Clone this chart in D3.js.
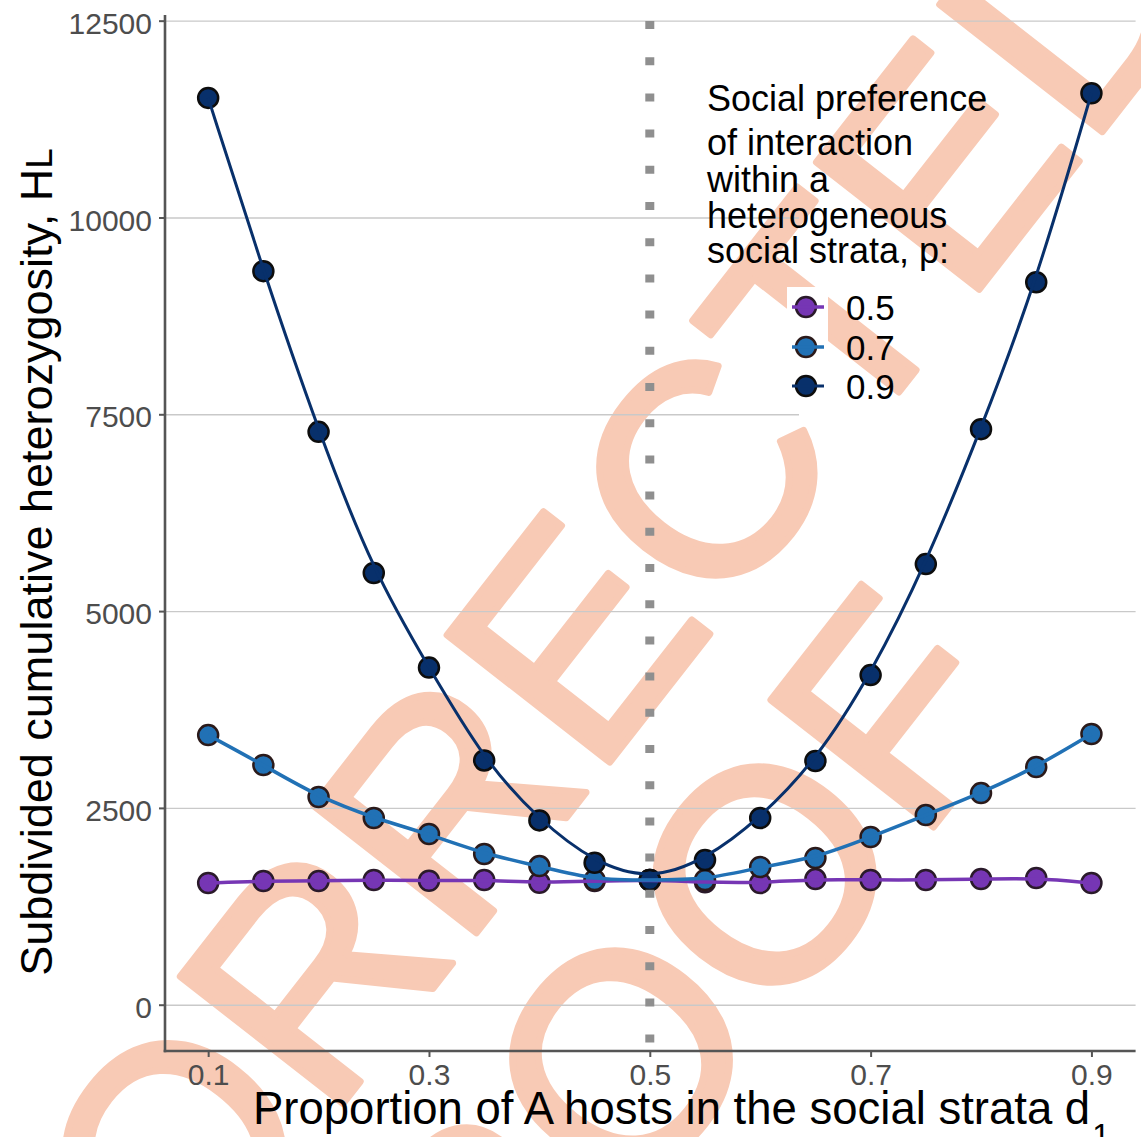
<!DOCTYPE html>
<html>
<head>
<meta charset="utf-8">
<script src="https://cdn.jsdelivr.net/npm/d3@7"></script>
<style>
  html, body { margin: 0; padding: 0; background: #ffffff; }
  svg { display: block; }
  text { font-family: "Liberation Sans", Arial, Helvetica, sans-serif; }
</style>
</head>
<body>
<svg id="chart" width="1141" height="1137"></svg>
<script>
// Proportion of A hosts in the social strata (d1)
const proportionA = [0.1, 0.15, 0.2, 0.25, 0.3, 0.35, 0.4, 0.45, 0.5, 0.55, 0.6, 0.65, 0.7, 0.75, 0.8, 0.85, 0.9];

// Subdivided cumulative heterozygosity HL for each social preference p
const hlP05 = [1546, 1571, 1571, 1584, 1575, 1584, 1549, 1570, 1584, 1555, 1546, 1596, 1584, 1584, 1596, 1609, 1546];
const hlP07 = [3425, 3045, 2638, 2371, 2168, 1914, 1761, 1584, 1584, 1584, 1749, 1863, 2130, 2409, 2688, 3019, 3438];
const hlP09 = [11519, 9318, 7277, 5484, 4282, 3103, 2341, 1803, 1584, 1838, 2371, 3095, 4187, 5597, 7311, 9178, 11578];

const seriesLabels = ["0.5", "0.7", "0.9"];
const seriesColors = ["#7636b4", "#2171b5", "#08306b"];
const seriesStrokes = ["#2a1a2a", "#2b1a1a", "#0d0d0d"];

const xTicks = [0.1, 0.3, 0.5, 0.7, 0.9];
const yTicks = [0, 2500, 5000, 7500, 10000, 12500];
const midProportion = 0.5;

const legendTitleLines = ["Social preference", "of interaction", "within a", "heterogeneous", "social strata, p:"];
const watermarkLines = ["UNCORRECTED", "PROOF"];

const W = 1141, H = 1137;
const panel = { left: 164, right: 1135.6, top: 15, bottom: 1051 };

const svg = d3.select("#chart");

const x = d3.scaleLinear().domain([0.06, 0.94]).range([panel.left, panel.right]);
const y = d3.scaleLinear().domain([-588, 12572]).range([panel.bottom, panel.top]);

// ---- watermark (behind everything) ----
const wmColor = "#f8cab5";
const wmPlacement = [
  { x: -216, y: 1819 },
  { x: 374.5, y: 1542.5 }
];
const wm = svg.append("g").attr("class", "watermark");
watermarkLines.forEach((t, i) => {
  wm.append("text")
    .attr("transform", `translate(${wmPlacement[i].x},${wmPlacement[i].y}) rotate(-52)`)
    .attr("font-size", 300)
    .attr("fill", wmColor)
    .attr("stroke", wmColor)
    .attr("stroke-width", 7)
    .attr("stroke-linejoin", "round")
    .text(t);
});

// ---- gridlines (interrupted behind the legend block) ----
const defs = svg.append("defs");
const clip = defs.append("clipPath").attr("id", "gridClip");
clip.append("rect").attr("x", 0).attr("y", 0).attr("width", 634).attr("height", H);
clip.append("rect").attr("x", 634).attr("y", 0).attr("width", W).attr("height", 70);
clip.append("rect").attr("x", 634).attr("y", 500).attr("width", W).attr("height", H);

const grid = svg.append("g")
  .attr("clip-path", "url(#gridClip)")
  .attr("transform", `translate(165,0)`)
  .call(d3.axisLeft(y).tickValues(yTicks).tickSize(-(panel.right - 165)).tickFormat(""));
grid.select(".domain").remove();
grid.selectAll(".tick line").attr("stroke", "#c9c9c9").attr("stroke-width", 1.4);

// ---- series ----
const series = [hlP05, hlP07, hlP09].map((vals, i) => ({
  label: seriesLabels[i],
  color: seriesColors[i],
  stroke: seriesStrokes[i],
  points: proportionA.map((p, j) => ({ p, v: vals[j] }))
}));

const pointsLayer = svg.append("g");
series.forEach(s => {
  pointsLayer.append("g")
    .selectAll("circle")
    .data(s.points)
    .join("circle")
    .attr("cx", d => x(d.p))
    .attr("cy", d => y(d.v))
    .attr("r", 10)
    .attr("fill", s.color)
    .attr("stroke", s.stroke)
    .attr("stroke-width", 2.5);
});

const line = d3.line().x(d => x(d.p)).y(d => y(d.v)).curve(d3.curveBasis);
const lineWidths = [3.5, 3.5, 3];
const linesLayer = svg.append("g");
series.forEach((s, i) => {
  linesLayer.append("path")
    .datum(s.points)
    .attr("d", line)
    .attr("fill", "none")
    .attr("stroke", s.color)
    .attr("stroke-width", lineWidths[i]);
});

// ---- dotted reference line at d1 = 0.5 ----
svg.append("line")
  .attr("x1", x(midProportion)).attr("x2", x(midProportion))
  .attr("y1", panel.top).attr("y2", panel.bottom)
  .attr("stroke", "#8f8f8f")
  .attr("stroke-width", 9)
  .attr("stroke-dasharray", "8 28.2")
  .attr("stroke-dashoffset", 30.2);

// ---- axes ----
const axisColor = "#555555";
const yAxis = svg.append("g")
  .attr("transform", `translate(165,0)`)
  .call(d3.axisLeft(y).tickValues(yTicks).tickSize(6).tickPadding(7).tickFormat(d3.format("d")));
yAxis.select(".domain").remove();
yAxis.selectAll(".tick line").attr("stroke", axisColor).attr("stroke-width", 2);
yAxis.selectAll(".tick text")
  .attr("font-size", 30)
  .attr("fill", "#4d4d4d")
  .attr("dy", "0.42em")
  .style("font-family", "'Liberation Sans', Arial, sans-serif");

const xAxis = svg.append("g")
  .attr("transform", `translate(0,${panel.bottom})`)
  .call(d3.axisBottom(x).tickValues(xTicks).tickSize(6).tickPadding(7).tickFormat(d3.format(".1f")));
xAxis.select(".domain").remove();
xAxis.selectAll(".tick line").attr("stroke", axisColor).attr("stroke-width", 2);
xAxis.selectAll(".tick text")
  .attr("font-size", 30)
  .attr("fill", "#4d4d4d")
  .style("font-family", "'Liberation Sans', Arial, sans-serif");

svg.append("line")
  .attr("x1", 165).attr("x2", 165)
  .attr("y1", panel.top).attr("y2", panel.bottom + 1.2)
  .attr("stroke", axisColor).attr("stroke-width", 2.6);
svg.append("line")
  .attr("x1", 163.7).attr("x2", panel.right)
  .attr("y1", panel.bottom).attr("y2", panel.bottom)
  .attr("stroke", axisColor).attr("stroke-width", 2.6);

// ---- axis titles ----
const xTitle = svg.append("text")
  .attr("x", 253).attr("y", 1124)
  .attr("font-size", 45.5)
  .attr("fill", "#000");
xTitle.append("tspan").text("Proportion of A hosts in the social strata d");
xTitle.append("tspan").attr("font-size", 32).attr("dx", 2).attr("dy", 22).text("1");

const yTitle = svg.append("text")
  .attr("transform", "translate(52,562) rotate(-90)")
  .attr("text-anchor", "middle")
  .attr("font-size", 45)
  .attr("fill", "#000");
yTitle.append("tspan").text("Subdivided cumulative heterozygosity, H");
yTitle.append("tspan").attr("font-size", 37).text("L");

// ---- legend ----
const legend = svg.append("g");
legendTitleLines.forEach((t, i) => {
  legend.append("text")
    .attr("x", 707)
    .attr("y", [111, 155, 192, 228, 263][i])
    .attr("font-size", 36)
    .attr("fill", "#000")
    .text(t);
});
const keyY = [307, 347, 386];
series.forEach((s, i) => {
  const g = legend.append("g").attr("transform", `translate(806,${keyY[i]})`);
  g.append("rect").attr("x", -19).attr("y", -20).attr("width", 41).attr("height", 40).attr("fill", "#ffffff");
  g.append("circle").attr("r", 10).attr("fill", s.color).attr("stroke", s.stroke).attr("stroke-width", 2.5);
  g.append("line").attr("x1", -14).attr("x2", 18).attr("stroke", s.color).attr("stroke-width", lineWidths[i]);
  legend.append("text")
    .attr("x", 846)
    .attr("y", keyY[i] + 12.5)
    .attr("font-size", 35)
    .attr("fill", "#000")
    .text(s.label);
});
</script>
</body>
</html>
